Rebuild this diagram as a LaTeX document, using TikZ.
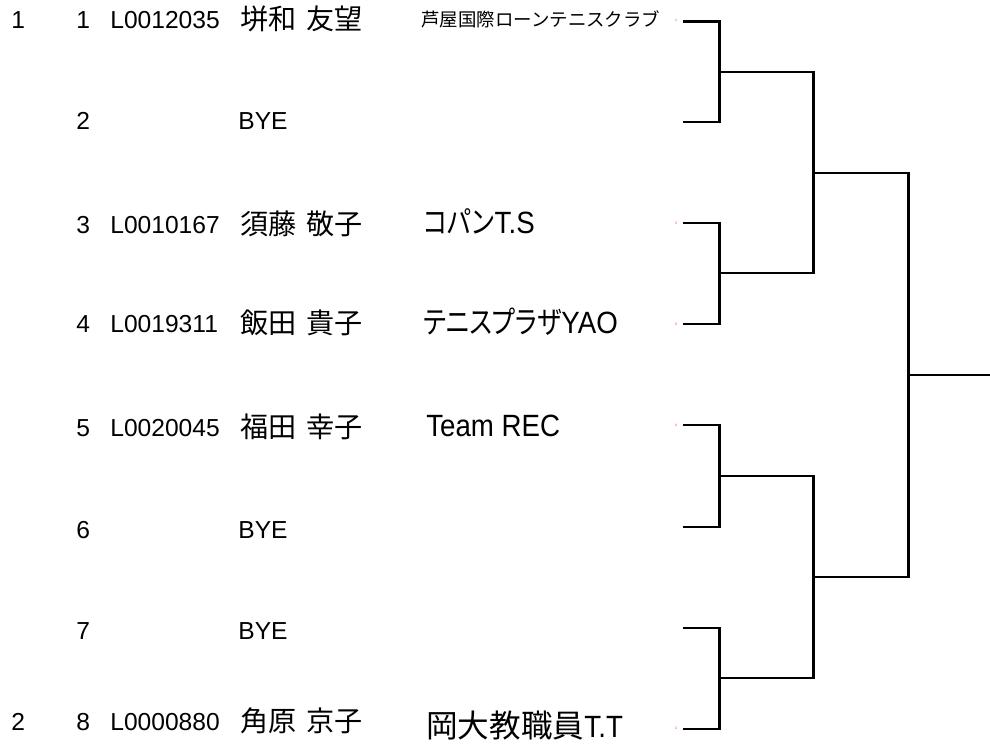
\documentclass[tikz,border=0pt]{standalone}
\usepackage{fontspec}
\setmainfont{Liberation Sans}
\newfontfamily\jpfont{Noto Sans CJK JP}[WordSpace=1.6]
\newfontfamily\jpkana{Noto Sans CJK JP}[RawFeature=+palt, FakeStretch=0.82]
\newfontfamily\clublatin{Liberation Sans}[FakeStretch=0.9]
\usetikzlibrary{positioning, calc}

\tikzset{
  entry/.style={anchor=base west, inner sep=0pt, font=\fontsize{14}{16}\selectfont},
  player/.style={anchor=base west, inner sep=0pt, font=\fontsize{16}{18}\selectfont\jpfont},
  club/.style={anchor=base west, inner sep=0pt, font=\fontsize{17.5}{20}\selectfont\clublatin},
  smallclub/.style={anchor=base west, inner sep=0pt, font=\fontsize{10.5}{12}\selectfont\jpfont},
  seedmark/.style={inner sep=0pt, text=red!80, font=\fontsize{2}{2}\selectfont},
  bracket/.style={line width=1.7pt, line join=miter}
}

\begin{document}
\begin{tikzpicture}[x=0.02cm, y=-0.02cm]
  \useasboundingbox (0,0) rectangle (990,749);

  % seeds
  \node[entry] (seed1) at (11,29) {1};
  \node[entry] (seed2) at (11,730) {2};

  % draw positions
  \node[entry] (num1) at (76,29) {1};
  \node[entry] (num2) at (76,130) {2};
  \node[entry] (num3) at (76,234) {3};
  \node[entry] (num4) at (76,333) {4};
  \node[entry] (num5) at (76,437) {5};
  \node[entry] (num6) at (76,538) {6};
  \node[entry] (num7) at (76,639) {7};
  \node[entry] (num8) at (76,730) {8};

  % players
  \node[entry] (id1) at (110,29) {L0012035};
  \node[player] (name1) at (240,30) {垪和 友望};
  \node[smallclub] (club1) at (421,27) {芦屋国際ローンテニスクラブ};

  \node[entry] (name2) at (238,130) {BYE};

  \node[entry] (id3) at (110,234) {L0010167};
  \node[player] (name3) at (240,235) {須藤 敬子};
  \node[club] (club3) at (423,234) {{\jpkana コパン}T.S};

  \node[entry] (id4) at (110,333) {L0019311};
  \node[player] (name4) at (240,334) {飯田 貴子};
  \node[club] (club4) at (423,334) {{\jpkana テニスプラザ}YAO};

  \node[entry] (id5) at (110,437) {L0020045};
  \node[player] (name5) at (240,438) {福田 幸子};
  \node[club] (club5) at (426,437) {Team REC};

  \node[entry] (name6) at (238,538) {BYE};
  \node[entry] (name7) at (238,639) {BYE};

  \node[entry] (id8) at (110,730) {L0000880};
  \node[player] (name8) at (240,731) {角原 京子};
  \node[club] (club8) at (426,737) {{\jpfont\fontsize{18}{20}\selectfont 岡大教職員}T.T};

  % seed marks
  \node[seedmark] (mk1) at (676,20) {1};
  \node[seedmark] (mk3) at (676,223) {3};
  \node[seedmark] (mk4) at (676,324) {5};
  \node[seedmark] (mk5) at (676,425) {4};
  \node[seedmark] (mk8) at (676,728) {2};

  % line ends
  \coordinate (p1) at (683,22);
  \coordinate (p2) at (683,122);
  \coordinate (p3) at (683,223);
  \coordinate (p4) at (683,324);
  \coordinate (p5) at (683,425);
  \coordinate (p6) at (683,527);
  \coordinate (p7) at (683,628);
  \coordinate (p8) at (683,729);
  \coordinate (m12) at (719,72);
  \coordinate (m34) at (719,273);
  \coordinate (m56) at (719,476);
  \coordinate (m78) at (719,678);
  \coordinate (r14) at (813,173);
  \coordinate (r58) at (813,577);
  \coordinate (fin) at (908,375);
  \coordinate (win) at (990,375);

  % first round
  \draw[bracket] (p1) -| (m12) |- (p2);
  \draw[bracket] (p3) -| (m34) |- (p4);
  \draw[bracket] (p5) -| (m56) |- (p6);
  \draw[bracket] (p7) -| (m78) |- (p8);
  % semi-finals
  \draw[bracket] (m12) -| (r14) |- (m34);
  \draw[bracket] (m56) -| (r58) |- (m78);
  % final
  \draw[bracket] (r14) -| (fin) |- (r58);
  \draw[bracket] (fin) -- (win);
\end{tikzpicture}
\end{document}
